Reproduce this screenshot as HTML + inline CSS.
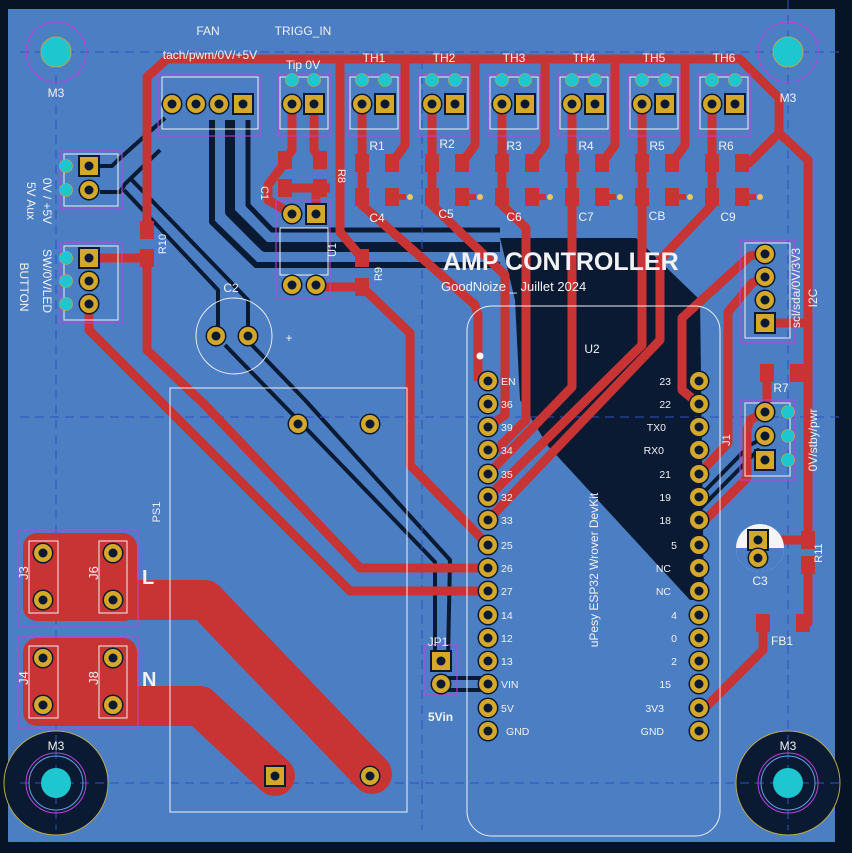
<!DOCTYPE html>
<html><head><meta charset="utf-8"><style>
html,body{margin:0;padding:0;background:#061426;}
svg{display:block}
text{font-family:"Liberation Sans","DejaVu Sans",sans-serif;fill:#f2f2f2}
</style></head><body>
<svg width="852" height="853" viewBox="0 0 852 853" xmlns="http://www.w3.org/2000/svg">
<defs>
<g id="rp"><circle r="10.5" fill="#0b1a33"/><circle r="9" fill="#d6a82a"/><circle r="4.5" fill="#0b1a33"/></g>
<g id="sp"><rect x="-11" y="-11" width="22" height="22" fill="#0b1a33"/><rect x="-9" y="-9" width="18" height="18" fill="#d6a82a"/><circle r="4.5" fill="#0b1a33"/></g>
<g id="cy"><circle r="6.5" fill="#1ec6cf" stroke="#c8b040" stroke-width="0.6"/></g>
<g id="smd"><rect x="-7" y="-9" width="14" height="18" fill="#c83434"/></g>
</defs>
<rect width="852" height="853" fill="#061426"/>
<rect x="8" y="9" width="827" height="833" fill="#4c7ec3"/>

<!-- dark copper regions -->
<polygon points="500,238 636,238 700,300 704,600 690,600 548,446 520,400 515,300" fill="#0b1a33"/>
<g stroke="#0b1a33" fill="none" stroke-linejoin="round">
<polyline points="212,120 212,222 256,265 500,265" stroke-width="6"/>
<polyline points="230,120 230,212 265,247 500,247" stroke-width="10"/>
<polyline points="248,120 248,205 272,230 500,230" stroke-width="5"/>
<polyline points="100,166 112,166 118,160 165,118" stroke-width="4"/>
<polyline points="100,192 120,192 125,184 160,150" stroke-width="4"/>
<polyline points="124,190 218,290 218,336" stroke-width="4"/>
<polyline points="130,178 248,300 248,336" stroke-width="4"/>
<polyline points="225,345 298,420 435,562 435,660" stroke-width="4"/>
<polyline points="252,345 305,400 450,560 448,660" stroke-width="4"/>
<polyline points="448,678 488,678" stroke-width="4"/>
<polyline points="448,690 488,690" stroke-width="4"/>
<polyline points="699,497 750,445 765,437" stroke-width="4"/>
<polyline points="699,510 758,450 765,460" stroke-width="4"/>
</g>
<!-- M3 bottom dark rings -->
<circle cx="56" cy="783" r="52" fill="#0b1a33" stroke="#b8a850" stroke-width="1"/>
<circle cx="788" cy="783" r="52" fill="#0b1a33" stroke="#b8a850" stroke-width="1"/>

<!-- dashed guides -->
<g stroke="#3050c0" stroke-width="1" stroke-dasharray="9,6" fill="none">
<line x1="56" y1="60" x2="56" y2="830"/><line x1="788" y1="0" x2="788" y2="830"/>
<line x1="20" y1="52" x2="840" y2="52"/><line x1="20" y1="783" x2="840" y2="783"/>
<line x1="20" y1="417" x2="840" y2="417"/><line x1="422" y1="60" x2="422" y2="830"/>
</g>

<!-- power traces -->
<g fill="#c83434">
<rect x="23" y="533" width="114" height="88" rx="14"/>
<rect x="23" y="638" width="114" height="88" rx="14"/>
</g>
<g stroke="#c83434" fill="none" stroke-linecap="round" stroke-linejoin="round">
<polyline points="130,600 205,600 372,774" stroke-width="40"/>
<polyline points="130,706 200,706 275,776" stroke-width="40"/>
</g>

<!-- signal traces -->
<g stroke="#c83434" fill="none" stroke-width="9" stroke-linejoin="round">
<polyline points="147,230 147,77 167,59 740,59 779,98 779,133 808,160 808,540"/>
<polyline points="779,133 749,163 740,163"/>
<polyline points="808,565 808,623 803,623"/>
<polyline points="763,623 763,650 705,708 699,708"/>
<polyline points="765,323 808,323"/>
<polyline points="147,260 147,350 205,405 360,568 488,568"/>
<polyline points="89,304 89,330 350,591 488,591"/>
<polyline points="89,258 147,258"/>
<polyline points="405,59 405,145 392,163"/>
<polyline points="475,59 475,145 462,163"/>
<polyline points="545,59 545,145 532,163"/>
<polyline points="615,59 615,145 602,163"/>
<polyline points="685,59 685,145 672,163"/>
<polyline points="362,104 362,205 475,305 478,315 478,381"/>
<polyline points="432,104 432,205 505,275 505,415 488,427"/>
<polyline points="502,104 502,205 526,228 526,420 496,450 488,450"/>
<polyline points="572,104 572,387 488,474"/>
<polyline points="642,104 642,345 488,497"/>
<polyline points="712,104 712,205 676,243 660,260 660,340 488,520"/>
<polyline points="765,254 750,256 682,318 682,390 699,404"/>
<polyline points="765,277 752,283 728,312 728,443 699,474"/>
<polyline points="767,373 767,412"/>
<polyline points="765,412 750,420 747,430 747,478 705,520"/>
<polyline points="292,104 292,150 285,160"/>
<polyline points="314,104 314,150 320,160"/>
<polyline points="280,188 330,188"/>
<polyline points="316,188 316,214"/>
<polyline points="283,165 268,185 268,200 292,214"/>
<polyline points="340,59 340,232 362,258"/>
<polyline points="316,287 362,287 410,333 410,465 488,545"/>
<polyline points="760,540 808,540"/>
</g>
<!-- SMD pads -->
<g>
<use href="#smd" x="147" y="230"/><use href="#smd" x="147" y="258"/>
<use href="#smd" x="285" y="160"/><use href="#smd" x="285" y="188"/>
<use href="#smd" x="320" y="160"/><use href="#smd" x="320" y="188"/>
<use href="#smd" x="362" y="258"/><use href="#smd" x="362" y="287"/>
<use href="#smd" x="767" y="373"/><use href="#smd" x="797" y="373"/>
<use href="#smd" x="808" y="540"/><use href="#smd" x="808" y="565"/>
<use href="#smd" x="763" y="623"/><use href="#smd" x="803" y="623"/>
</g>
<g id="rc">
<use href="#smd" x="362" y="163"/><use href="#smd" x="392" y="163"/>
<use href="#smd" x="362" y="197"/><use href="#smd" x="392" y="197"/>
<rect x="392" y="194" width="14" height="6" fill="#c83434"/><circle cx="410" cy="197" r="3" fill="#e8c860"/>
</g>
<use href="#rc" x="70"/><use href="#rc" x="140"/><use href="#rc" x="210"/><use href="#rc" x="280"/><use href="#rc" x="350"/>

<!-- outlines -->
<g fill="none" stroke-width="1">
<rect x="158" y="74" width="102" height="62" stroke="#c040e0"/>
<rect x="162" y="77" width="96" height="52" stroke="#f0f0f0"/>
<rect x="278" y="74" width="52" height="62" stroke="#c040e0"/>
<rect x="280" y="77" width="48" height="52" stroke="#f0f0f0"/>
<rect x="60" y="151" width="62" height="58" stroke="#c040e0"/>
<rect x="60" y="243" width="62" height="80" stroke="#c040e0"/>
<rect x="64" y="154" width="54" height="52" stroke="#f0f0f0"/>
<rect x="64" y="246" width="54" height="74" stroke="#f0f0f0"/>
<rect x="170" y="388" width="237" height="424" stroke="#f0f0f0"/>
<rect x="18" y="530" width="120" height="96" stroke="#c040e0"/>
<rect x="18" y="636" width="120" height="92" stroke="#c040e0"/>
<rect x="29" y="541" width="29" height="72" stroke="#f0f0f0"/>
<rect x="99" y="541" width="28" height="72" stroke="#f0f0f0"/>
<rect x="29" y="646" width="29" height="72" stroke="#f0f0f0"/>
<rect x="99" y="646" width="28" height="72" stroke="#f0f0f0"/>
<rect x="467" y="306" width="253" height="530" rx="25" stroke="#f0f0f0"/>
<rect x="740" y="240" width="55" height="102" stroke="#c040e0"/>
<rect x="745" y="243" width="45" height="95" stroke="#f0f0f0"/>
<rect x="740" y="400" width="55" height="80" stroke="#c040e0"/>
<rect x="745" y="403" width="45" height="73" stroke="#f0f0f0"/>
<rect x="425" y="645" width="32" height="50" stroke="#c040e0"/>
<rect x="280" y="228" width="48" height="47" stroke="#f0f0f0"/>
<rect x="276" y="200" width="54" height="98" stroke="#c040e0"/>
<circle cx="234" cy="336" r="38" stroke="#f0f0f0"/>
<circle cx="56" cy="52" r="30" stroke="#c040e0"/>
<circle cx="788" cy="52" r="30" stroke="#c040e0"/>
<circle cx="56" cy="783" r="30" stroke="#c040e0"/>
<circle cx="788" cy="783" r="30" stroke="#c040e0"/>
<circle cx="56" cy="783" r="27" stroke="#60a0e0"/>
<circle cx="788" cy="783" r="27" stroke="#60a0e0"/>
</g>
<g id="thb" fill="none" stroke-width="1">
<rect x="348" y="74" width="52" height="62" stroke="#c040e0"/>
<rect x="350" y="77" width="48" height="52" stroke="#f0f0f0"/>
</g>
<use href="#thb" x="70"/><use href="#thb" x="140"/><use href="#thb" x="210"/><use href="#thb" x="280"/><use href="#thb" x="350"/>
<circle cx="760" cy="548" r="24" fill="#f4f4f4"/>
<path d="M736,548 A24,24 0 0 0 784,548 Z" fill="#4c7ec3"/>

<!-- mount holes -->
<circle cx="56" cy="52" r="15" fill="#1ec6cf" stroke="#b8a850"/>
<circle cx="788" cy="52" r="15" fill="#1ec6cf" stroke="#b8a850"/>
<circle cx="56" cy="783" r="15" fill="#1ec6cf"/>
<circle cx="788" cy="783" r="15" fill="#1ec6cf"/>

<!-- through-hole pads -->
<use href="#rp" x="172" y="104"/><use href="#rp" x="196" y="104"/><use href="#rp" x="219" y="104"/><use href="#sp" x="243" y="104"/>
<use href="#rp" x="292" y="104"/><use href="#sp" x="314" y="104"/>
<use href="#cy" x="292" y="80"/><use href="#cy" x="314" y="80"/>
<g id="thp"><use href="#rp" x="362" y="104"/><use href="#sp" x="385" y="104"/><use href="#cy" x="362" y="80"/><use href="#cy" x="385" y="80"/></g>
<use href="#thp" x="70"/><use href="#thp" x="140"/><use href="#thp" x="210"/><use href="#thp" x="280"/><use href="#thp" x="350"/>
<use href="#sp" x="89" y="166"/><use href="#rp" x="89" y="190"/><use href="#cy" x="66" y="166"/><use href="#cy" x="66" y="190"/>
<use href="#sp" x="89" y="258"/><use href="#rp" x="89" y="281"/><use href="#rp" x="89" y="304"/>
<use href="#cy" x="66" y="258"/><use href="#cy" x="66" y="281"/><use href="#cy" x="66" y="304"/>
<use href="#rp" x="292" y="214"/><use href="#sp" x="316" y="214"/><use href="#rp" x="292" y="285"/><use href="#rp" x="316" y="285"/>
<use href="#rp" x="216" y="336"/><use href="#rp" x="248" y="336"/>
<use href="#rp" x="298" y="424"/><use href="#rp" x="370" y="424"/>
<use href="#sp" x="275" y="776"/><use href="#rp" x="370" y="776"/>
<use href="#rp" x="43" y="553"/><use href="#rp" x="43" y="600"/><use href="#rp" x="113" y="553"/><use href="#rp" x="113" y="600"/>
<use href="#rp" x="43" y="658"/><use href="#rp" x="43" y="705"/><use href="#rp" x="113" y="658"/><use href="#rp" x="113" y="705"/>
<use href="#sp" x="441" y="661"/><use href="#rp" x="441" y="684"/>
<use href="#rp" x="765" y="254"/><use href="#rp" x="765" y="277"/><use href="#rp" x="765" y="300"/><use href="#sp" x="765" y="323"/>
<use href="#rp" x="765" y="412"/><use href="#rp" x="765" y="436"/><use href="#sp" x="765" y="460"/>
<use href="#cy" x="788" y="412"/><use href="#cy" x="788" y="436"/><use href="#cy" x="788" y="460"/>
<use href="#sp" x="758" y="540"/><use href="#rp" x="758" y="558"/>
<g id="esp">
<use href="#rp" x="488" y="381"/><use href="#rp" x="488" y="404"/><use href="#rp" x="488" y="427"/><use href="#rp" x="488" y="450"/>
<use href="#rp" x="488" y="474"/><use href="#rp" x="488" y="497"/><use href="#rp" x="488" y="520"/><use href="#rp" x="488" y="545"/>
<use href="#rp" x="488" y="568"/><use href="#rp" x="488" y="591"/><use href="#rp" x="488" y="615"/><use href="#rp" x="488" y="638"/>
<use href="#rp" x="488" y="661"/><use href="#rp" x="488" y="684"/><use href="#rp" x="488" y="708"/><use href="#rp" x="488" y="731"/>
</g>
<use href="#esp" x="211"/>
<circle cx="480" cy="356" r="3.5" fill="#fff"/>

<!-- labels -->
<g font-size="12">
<text x="208" y="35" text-anchor="middle">FAN</text>
<text x="303" y="35" text-anchor="middle">TRIGG_IN</text>
<text x="210" y="59" text-anchor="middle">tach/pwm/0V/+5V</text>
<text x="303" y="69" text-anchor="middle">Tip 0V</text>
<text x="374" y="62" text-anchor="middle">TH1</text><text x="444" y="62" text-anchor="middle">TH2</text>
<text x="514" y="62" text-anchor="middle">TH3</text><text x="584" y="62" text-anchor="middle">TH4</text>
<text x="654" y="62" text-anchor="middle">TH5</text><text x="724" y="62" text-anchor="middle">TH6</text>
<text x="377" y="150" text-anchor="middle">R1</text><text x="447" y="148" text-anchor="middle">R2</text>
<text x="514" y="150" text-anchor="middle">R3</text><text x="586" y="150" text-anchor="middle">R4</text>
<text x="657" y="150" text-anchor="middle">R5</text><text x="726" y="150" text-anchor="middle">R6</text>
<text x="377" y="222" text-anchor="middle">C4</text><text x="446" y="218" text-anchor="middle">C5</text>
<text x="514" y="221" text-anchor="middle">C6</text><text x="586" y="221" text-anchor="middle">C7</text>
<text x="657" y="220" text-anchor="middle">CB</text><text x="728" y="221" text-anchor="middle">C9</text>
<text x="56" y="97" text-anchor="middle">M3</text><text x="788" y="102" text-anchor="middle">M3</text>
<text x="56" y="750" text-anchor="middle">M3</text><text x="788" y="750" text-anchor="middle">M3</text>
<text x="231" y="292" text-anchor="middle">C2</text>
<text x="289" y="342" text-anchor="middle">+</text>
<text x="592" y="353" text-anchor="middle">U2</text>
<text x="781" y="392" text-anchor="middle">R7</text>
<text x="760" y="585" text-anchor="middle">C3</text>
<text x="782" y="645" text-anchor="middle">FB1</text>
<text x="438" y="646" text-anchor="middle">JP1</text>
</g>
<g font-size="11">
<text x="283" y="181" transform="rotate(90 266 176)" text-anchor="middle">C1</text>
<text x="338" y="176" transform="rotate(90 338 176)" text-anchor="middle">R8</text>
<text x="166" y="244" transform="rotate(-90 166 244)" text-anchor="middle">R10</text>
<text x="336" y="250" transform="rotate(-90 336 250)" text-anchor="middle">U1</text>
<text x="382" y="274" transform="rotate(-90 382 274)" text-anchor="middle">R9</text>
<text x="160" y="512" transform="rotate(-90 160 512)" text-anchor="middle">PS1</text>
<text x="730" y="440" transform="rotate(-90 730 440)" text-anchor="middle">J1</text>
<text x="822" y="553" transform="rotate(-90 822 553)" text-anchor="middle">R11</text>
<text x="47" y="562" transform="rotate(-90 43 577)" text-anchor="middle" font-size="13">J3</text>
<text x="117" y="562" transform="rotate(-90 113 577)" text-anchor="middle" font-size="13">J6</text>
<text x="47" y="667" transform="rotate(-90 43 682)" text-anchor="middle" font-size="13">J4</text>
<text x="117" y="667" transform="rotate(-90 113 682)" text-anchor="middle" font-size="13">J8</text>
<text x="48" y="196" transform="rotate(90 43 196)" text-anchor="middle" font-size="12">0V / +5V</text>
<text x="32" y="196" transform="rotate(90 27 196)" text-anchor="middle" font-size="12">5V Aux</text>
<text x="48" y="276" transform="rotate(90 43 276)" text-anchor="middle" font-size="12">SW/0V/LED</text>
<text x="25" y="282" transform="rotate(90 20 282)" text-anchor="middle" font-size="12">BUTTON</text>
<text x="800" y="288" transform="rotate(-90 800 288)" text-anchor="middle" font-size="12">scl/sda/0V/3V3</text>
<text x="817" y="298" transform="rotate(-90 817 298)" text-anchor="middle" font-size="12">I2C</text>
<text x="817" y="440" transform="rotate(-90 817 440)" text-anchor="middle" font-size="12">0V/stby/pwr</text>
<text x="598" y="570" transform="rotate(-90 598 570)" text-anchor="middle" font-size="12">uPesy ESP32 Wrover DevKit</text>
</g>
<g font-size="10.5">
<text x="501" y="385">EN</text><text x="501" y="408">36</text><text x="501" y="431">39</text><text x="501" y="454">34</text>
<text x="501" y="478">35</text><text x="501" y="501">32</text><text x="501" y="524">33</text><text x="501" y="549">25</text>
<text x="501" y="572">26</text><text x="501" y="595">27</text><text x="501" y="619">14</text><text x="501" y="642">12</text>
<text x="501" y="665">13</text><text x="501" y="688">VIN</text><text x="501" y="712">5V</text><text x="506" y="735">GND</text>
<g text-anchor="end">
<text x="671" y="385">23</text><text x="671" y="408">22</text><text x="666" y="431">TX0</text><text x="664" y="454">RX0</text>
<text x="671" y="478">21</text><text x="671" y="501">19</text><text x="671" y="524">18</text><text x="677" y="549">5</text>
<text x="671" y="572">NC</text><text x="671" y="595">NC</text><text x="677" y="619">4</text><text x="677" y="642">0</text>
<text x="677" y="665">2</text><text x="671" y="688">15</text><text x="664" y="712">3V3</text><text x="664" y="735">GND</text>
</g></g>
<text x="443" y="270" font-size="25" font-weight="bold">AMP CONTROLLER</text>
<text x="441" y="291" font-size="13">GoodNoize _ Juillet 2024</text>
<text x="142" y="584" font-size="20" font-weight="bold">L</text>
<text x="142" y="686" font-size="20" font-weight="bold">N</text>
<text x="428" y="721" font-size="12" font-weight="bold">5Vin</text>
</svg>
</body></html>
